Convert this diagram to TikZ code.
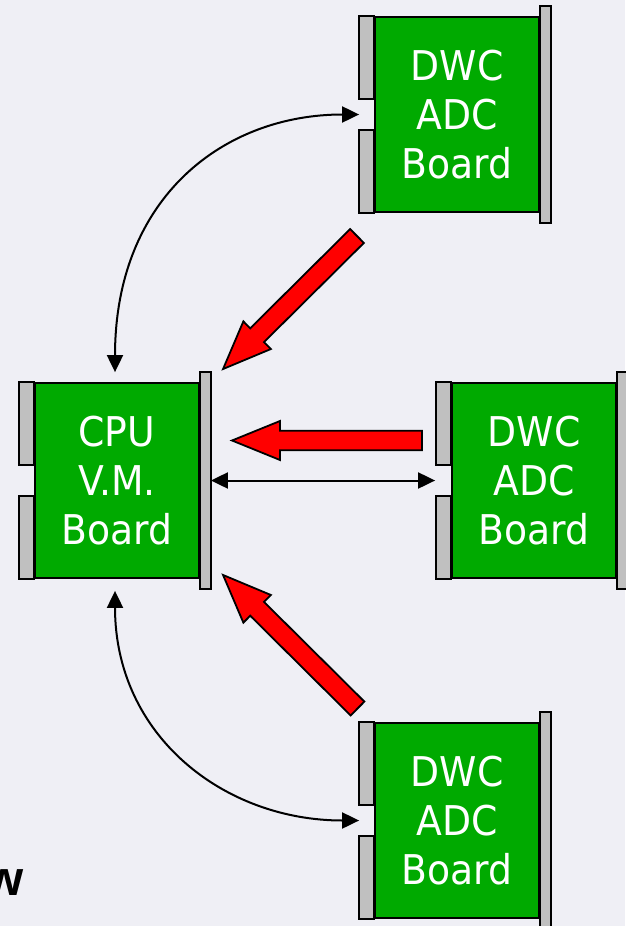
\documentclass[tikz,border=0pt]{standalone}
\usepackage{fontspec}
\usetikzlibrary{arrows.meta,calc}
\newfontfamily\boardfont{DejaVu Sans}[FakeStretch=0.92]
\newfontfamily\labelfont{Liberation Sans}
\definecolor{bgcol}{RGB}{239,239,245}
\definecolor{boardgreen}{RGB}{0,170,0}
\definecolor{stripgray}{RGB}{192,192,192}
\definecolor{flowred}{RGB}{255,0,0}
\tikzset{
  board/.style={draw=black, line width=1.8pt, fill=boardgreen, inner sep=0pt,
    minimum width=164pt, minimum height=195pt, text=white, align=center,
    font=\boardfont\fontsize{41}{49}\selectfont},
  strip/.style={draw=black, line width=1.8pt, fill=stripgray},
  link/.style={draw=black, line width=2pt, {Triangle[length=17pt,width=16pt]}-{Triangle[length=17pt,width=16pt]}},
  fat/.style={draw=black, line width=1.8pt, fill=flowred, line join=miter}
}
% edge strips of a board: two short ones on the left, one long on the right
\newcommand\boardstrips[1]{%
  \draw[strip] ($(#1.north west)+(-15,0)$) rectangle ($(#1.north west)+(0,83)$);
  \draw[strip] ($(#1.south west)+(-15,0)$) rectangle ($(#1.south west)+(0,-83)$);
  \draw[strip] ($(#1.north east)+(0,-10)$) rectangle ($(#1.south east)+(11,10)$);
}
% wide outlined arrow lying along the local x axis, tail at the origin
\newcommand\fatarrow[1]{%
  \draw[fat] (0,-9.75) -- ({#1-48},-9.75) -- ({#1-48},-19.5) -- (#1,0)
    -- ({#1-48},19.5) -- ({#1-48},9.75) -- (0,9.75) -- cycle;
}
\begin{document}
\begin{tikzpicture}[x=1pt,y=-1pt]
  \fill[bgcol] (0,0) rectangle (625,926);
  \useasboundingbox (0,0) rectangle (625,926);

  % boards
  \node[board] (dwcA) at (457,114.5) {DWC\\ADC\\Board};
  \node[board] (cpu)  at (117,480.5) {CPU\\V.M.\\Board};
  \node[board] (dwcB) at (534,480.5) {DWC\\ADC\\Board};
  \node[board] (dwcC) at (457,820.5) {DWC\\ADC\\Board};
  \foreach \b in {dwcA,cpu,dwcB,dwcC} {\boardstrips{\b}}

  % connector ends
  \coordinate (cpuN) at ($(cpu.north)+(-2,-10)$);
  \coordinate (cpuS) at ($(cpu.south)+(-2,12)$);
  \coordinate (cpuE) at ($(cpu.east)+(11,0)$);
  \coordinate (portA) at ($(dwcA.west)+(-15,0)$);
  \coordinate (portB) at ($(dwcB.west)+(-16,0)$);
  \coordinate (portC) at ($(dwcC.west)+(-15,0)$);

  % control links
  \draw[link] (cpuN) .. controls +(0,-175) and +(-135,0) .. (portA);
  \draw[link] (cpuS) .. controls +(0,145) and +(-135,0) .. (portC);
  \draw[link] (cpuE) -- (portB);

  % data flow towards the CPU board
  \coordinate (tailA) at (357,236);
  \coordinate (tailB) at (422,440.5);
  \coordinate (tailC) at (357.5,708.5);
  \begin{scope}[shift={(tailA)}, rotate=224.8] \fatarrow{188.8} \end{scope}
  \begin{scope}[shift={(tailB)}, rotate=180] \fatarrow{190} \end{scope}
  \begin{scope}[shift={(tailC)}, rotate=135.2] \fatarrow{189.5} \end{scope}

  \node[anchor=base east, inner sep=0pt, font=\labelfont\bfseries\fontsize{49}{49}\selectfont] (cut) at (24,895) {w};
\end{tikzpicture}
\end{document}
